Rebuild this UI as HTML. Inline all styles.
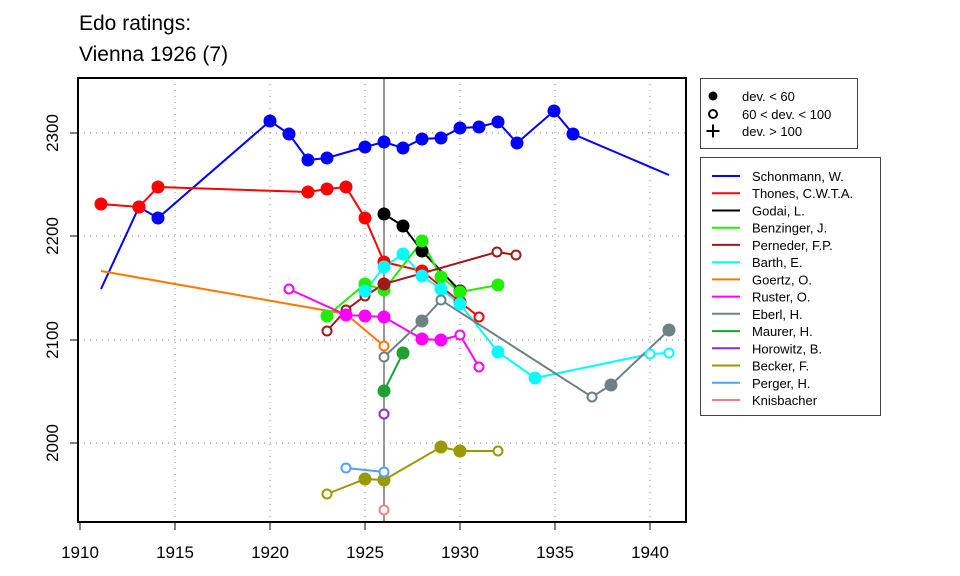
<!DOCTYPE html>
<html><head><meta charset="utf-8"><style>body{margin:0;background:#fff}svg{display:block;font-family:"Liberation Sans",sans-serif}</style></head>
<body>
<svg width="960" height="576" viewBox="0 0 960 576">
<text x="79" y="30" font-size="21">Edo ratings:</text>
<text x="79" y="61" font-size="21">Vienna 1926 (7)</text>
<g stroke="#888" stroke-width="1" stroke-dasharray="1,5">
<line x1="175" y1="78" x2="175" y2="522"/><line x1="270" y1="78" x2="270" y2="522"/><line x1="365" y1="78" x2="365" y2="522"/><line x1="460" y1="78" x2="460" y2="522"/><line x1="555" y1="78" x2="555" y2="522"/><line x1="650" y1="78" x2="650" y2="522"/>
<line x1="78" y1="133" x2="686" y2="133"/><line x1="78" y1="236" x2="686" y2="236"/><line x1="78" y1="340" x2="686" y2="340"/><line x1="78" y1="443" x2="686" y2="443"/>
</g>
<line x1="384" y1="78" x2="384" y2="522" stroke="#999" stroke-width="2"/>
<g stroke="#000" stroke-width="1">
<line x1="80" y1="523" x2="80" y2="530"/><line x1="175" y1="523" x2="175" y2="530"/><line x1="270" y1="523" x2="270" y2="530"/><line x1="365" y1="523" x2="365" y2="530"/><line x1="460" y1="523" x2="460" y2="530"/><line x1="555" y1="523" x2="555" y2="530"/><line x1="650" y1="523" x2="650" y2="530"/>
<line x1="70" y1="133" x2="77" y2="133"/><line x1="70" y1="236" x2="77" y2="236"/><line x1="70" y1="340" x2="77" y2="340"/><line x1="70" y1="443" x2="77" y2="443"/>
</g>
<g font-size="17" text-anchor="middle">
<text x="80" y="558">1910</text><text x="175" y="558">1915</text><text x="270" y="558">1920</text><text x="365" y="558">1925</text><text x="460" y="558">1930</text><text x="555" y="558">1935</text><text x="650" y="558">1940</text>
<text transform="translate(58,133) rotate(-90)">2300</text>
<text transform="translate(58,236) rotate(-90)">2200</text>
<text transform="translate(58,340) rotate(-90)">2100</text>
<text transform="translate(58,443) rotate(-90)">2000</text>
</g>
<g fill="none" stroke-width="2">
<polyline stroke="#0000ff" points="101,289 139,207 158,218 270,121 289,134 308,160 327,158 365,147 384,142 403,148 422,139 441,138 460,128 479,127 498,122 517,143 554,111 573,134 669,175"/>
<polyline stroke="#ff0000" points="101,204 139,207 158,187 308,192 327,189 346,187 365,218 384,262 422,271 460,302 479,317"/>
<polyline stroke="#000" points="384,214 403,226 422,251 460,291"/>
<polyline stroke="#22ee00" points="327,316 365,284 384,290 422,241 441,277 460,292 498,285"/>
<polyline stroke="#a01818" points="327,331 346,310 365,296 384,284 497,252 516,255"/>
<polyline stroke="#00ffff" points="365,291 384,267 403,254 422,276 441,289 460,304 498,352 535,378 650,354 669,353"/>
<polyline stroke="#ff7700" points="101,271 346,314 384,346"/>
<polyline stroke="#ff00ff" points="289,289 346,315 365,316 384,317 422,339 441,340 460,335 479,367"/>
<polyline stroke="#6c8285" points="384,357 422,321 441,300 592,397 611,385 669,330"/>
<polyline stroke="#20a030" points="384,391 403,353"/>
<polyline stroke="#999900" points="327,494 365,479 384,480 441,447 460,451 498,451"/>
<polyline stroke="#55a0f0" points="346,468 384,472"/>
</g>
<g stroke-width="2">
<g fill="#0000ff" stroke="#0000ff"><circle cx="139" cy="207" r="5.5"/><circle cx="158" cy="218" r="5.5"/><circle cx="270" cy="121" r="5.5"/><circle cx="289" cy="134" r="5.5"/><circle cx="308" cy="160" r="5.5"/><circle cx="327" cy="158" r="5.5"/><circle cx="365" cy="147" r="5.5"/><circle cx="384" cy="142" r="5.5"/><circle cx="403" cy="148" r="5.5"/><circle cx="422" cy="139" r="5.5"/><circle cx="441" cy="138" r="5.5"/><circle cx="460" cy="128" r="5.5"/><circle cx="479" cy="127" r="5.5"/><circle cx="498" cy="122" r="5.5"/><circle cx="517" cy="143" r="5.5"/><circle cx="554" cy="111" r="5.5"/><circle cx="573" cy="134" r="5.5"/></g>
<g fill="#ff0000" stroke="#ff0000"><circle cx="101" cy="204" r="5.5"/><circle cx="139" cy="207" r="5.5"/><circle cx="158" cy="187" r="5.5"/><circle cx="308" cy="192" r="5.5"/><circle cx="327" cy="189" r="5.5"/><circle cx="346" cy="187" r="5.5"/><circle cx="365" cy="218" r="5.5"/><circle cx="384" cy="262" r="5.5"/><circle cx="422" cy="271" r="5.5"/><circle cx="460" cy="302" r="5.5"/><circle cx="479" cy="317" r="4.5" fill="#fff"/></g>
<g fill="#000" stroke="#000"><circle cx="384" cy="214" r="5.5"/><circle cx="403" cy="226" r="5.5"/><circle cx="422" cy="251" r="5.5"/><circle cx="460" cy="291" r="5.5"/></g>
<g fill="#22ee00" stroke="#22ee00"><circle cx="327" cy="316" r="5.5"/><circle cx="365" cy="284" r="5.5"/><circle cx="384" cy="290" r="5.5"/><circle cx="422" cy="241" r="5.5"/><circle cx="441" cy="277" r="5.5"/><circle cx="460" cy="292" r="5.5"/><circle cx="498" cy="285" r="5.5"/></g>
<g fill="#fff" stroke="#a01818"><circle cx="327" cy="331" r="4.5"/><circle cx="346" cy="310" r="4.5"/><circle cx="365" cy="296" r="4.5"/><circle cx="384" cy="284" r="5.5" fill="#a01818"/><circle cx="497" cy="252" r="4.5"/><circle cx="516" cy="255" r="4.5"/></g>
<g fill="#00ffff" stroke="#00ffff"><circle cx="365" cy="291" r="5.5"/><circle cx="384" cy="267" r="5.5"/><circle cx="403" cy="254" r="5.5"/><circle cx="422" cy="276" r="5.5"/><circle cx="441" cy="289" r="5.5"/><circle cx="460" cy="304" r="5.5"/><circle cx="498" cy="352" r="5.5"/><circle cx="535" cy="378" r="5.5"/><circle cx="650" cy="354" r="4.5" fill="#fff"/><circle cx="669" cy="353" r="4.5" fill="#fff"/></g>
<g fill="#fff" stroke="#ff7700"><circle cx="384" cy="346" r="4.5"/></g>
<g fill="#ff00ff" stroke="#ff00ff"><circle cx="289" cy="289" r="4.5" fill="#fff"/><circle cx="346" cy="315" r="5.5"/><circle cx="365" cy="316" r="5.5"/><circle cx="384" cy="317" r="5.5"/><circle cx="422" cy="339" r="5.5"/><circle cx="441" cy="340" r="5.5"/><circle cx="460" cy="335" r="4.5" fill="#fff"/><circle cx="479" cy="367" r="4.5" fill="#fff"/></g>
<g fill="#6c8285" stroke="#6c8285"><circle cx="384" cy="357" r="4.5" fill="#fff"/><circle cx="422" cy="321" r="5.5"/><circle cx="441" cy="300" r="4.5" fill="#fff"/><circle cx="592" cy="397" r="4.5" fill="#fff"/><circle cx="611" cy="385" r="5.5"/><circle cx="669" cy="330" r="5.5"/></g>
<g fill="#20a030" stroke="#20a030"><circle cx="384" cy="391" r="5.5"/><circle cx="403" cy="353" r="5.5"/></g>
<circle cx="384" cy="414" r="4.5" fill="#fff" stroke="#8a2be2"/>
<g fill="#999900" stroke="#999900"><circle cx="327" cy="494" r="4.5" fill="#fff"/><circle cx="365" cy="479" r="5.5"/><circle cx="384" cy="480" r="5.5"/><circle cx="441" cy="447" r="5.5"/><circle cx="460" cy="451" r="5.5"/><circle cx="498" cy="451" r="4.5" fill="#fff"/></g>
<g fill="#fff" stroke="#55a0f0"><circle cx="346" cy="468" r="4.5"/><circle cx="384" cy="472" r="4.5"/></g>
<circle cx="384" cy="510" r="4.5" fill="#fff" stroke="#f08080"/>
</g>
<rect x="78" y="78" width="608" height="444" fill="none" stroke="#000" stroke-width="2"/>
<rect x="700.5" y="78.5" width="157" height="70" fill="#fff" stroke="#444"/>
<g font-size="13">
<circle cx="713" cy="96" r="4.5"/><circle cx="713" cy="114" r="4" fill="none" stroke="#000" stroke-width="2"/>
<path d="M706.5 131h13M713 124.5v13" stroke="#000" stroke-width="2"/>
<text x="742" y="101">dev. &lt; 60</text><text x="742" y="119">60 &lt; dev. &lt; 100</text><text x="742" y="136">dev. &gt; 100</text>
</g>
<rect x="700.5" y="157.5" width="180" height="258" fill="#fff" stroke="#444"/>
<g font-size="13" stroke-width="2">
<line x1="712" y1="176" x2="740" y2="176" stroke="#0000ff"/><text x="752" y="181">Schonmann, W.</text>
<line x1="712" y1="193.2" x2="740" y2="193.2" stroke="#ff0000"/><text x="752" y="198.2">Thones, C.W.T.A.</text>
<line x1="712" y1="210.5" x2="740" y2="210.5" stroke="#000"/><text x="752" y="215.5">Godai, L.</text>
<line x1="712" y1="227.7" x2="740" y2="227.7" stroke="#22ee00"/><text x="752" y="232.7">Benzinger, J.</text>
<line x1="712" y1="244.9" x2="740" y2="244.9" stroke="#a01818"/><text x="752" y="249.9">Perneder, F.P.</text>
<line x1="712" y1="262.2" x2="740" y2="262.2" stroke="#00ffff"/><text x="752" y="267.2">Barth, E.</text>
<line x1="712" y1="279.4" x2="740" y2="279.4" stroke="#ff7700"/><text x="752" y="284.4">Goertz, O.</text>
<line x1="712" y1="296.6" x2="740" y2="296.6" stroke="#ff00ff"/><text x="752" y="301.6">Ruster, O.</text>
<line x1="712" y1="313.8" x2="740" y2="313.8" stroke="#6c8285"/><text x="752" y="318.8">Eberl, H.</text>
<line x1="712" y1="331.1" x2="740" y2="331.1" stroke="#20a030"/><text x="752" y="336.1">Maurer, H.</text>
<line x1="712" y1="348.3" x2="740" y2="348.3" stroke="#8a2be2"/><text x="752" y="353.3">Horowitz, B.</text>
<line x1="712" y1="365.5" x2="740" y2="365.5" stroke="#999900"/><text x="752" y="370.5">Becker, F.</text>
<line x1="712" y1="382.8" x2="740" y2="382.8" stroke="#55a0f0"/><text x="752" y="387.8">Perger, H.</text>
<line x1="712" y1="400" x2="740" y2="400" stroke="#f08080"/><text x="752" y="405">Knisbacher</text>
</g>
</svg>
</body></html>
